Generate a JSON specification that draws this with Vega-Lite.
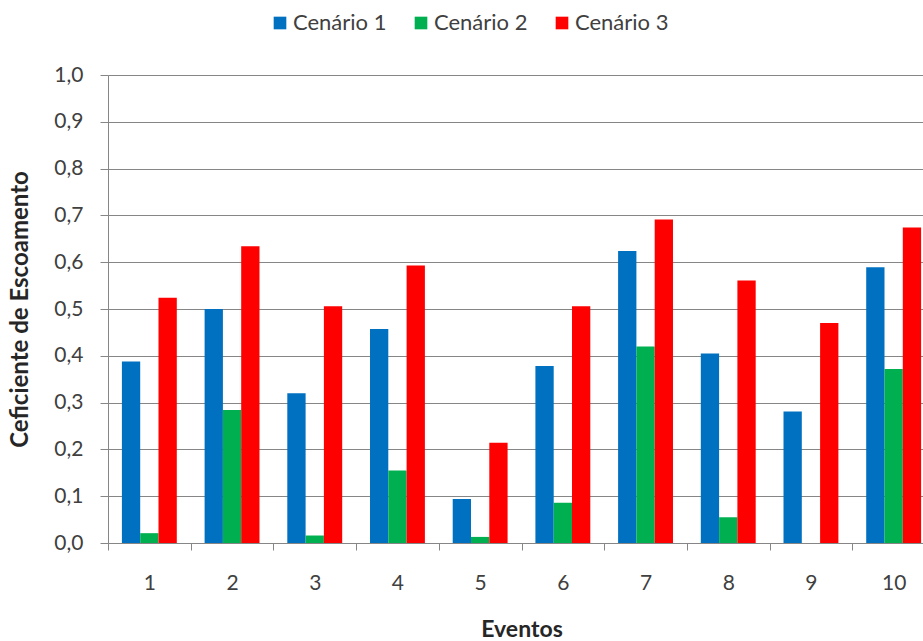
{
  "$schema": "https://vega.github.io/schema/vega-lite/v6.json",
  "width": 815,
  "height": 468,
  "autosize": {"type": "none"},
  "padding": {"left": 108, "top": 75, "right": 0, "bottom": 98},
  "background": "white",
  "data": {
    "values": [
      {"evento": 1, "cenario": "Cenário 1", "valor": 0.388},
      {"evento": 1, "cenario": "Cenário 2", "valor": 0.021},
      {"evento": 1, "cenario": "Cenário 3", "valor": 0.524},
      {"evento": 2, "cenario": "Cenário 1", "valor": 0.500},
      {"evento": 2, "cenario": "Cenário 2", "valor": 0.284},
      {"evento": 2, "cenario": "Cenário 3", "valor": 0.634},
      {"evento": 3, "cenario": "Cenário 1", "valor": 0.320},
      {"evento": 3, "cenario": "Cenário 2", "valor": 0.016},
      {"evento": 3, "cenario": "Cenário 3", "valor": 0.506},
      {"evento": 4, "cenario": "Cenário 1", "valor": 0.457},
      {"evento": 4, "cenario": "Cenário 2", "valor": 0.155},
      {"evento": 4, "cenario": "Cenário 3", "valor": 0.593},
      {"evento": 5, "cenario": "Cenário 1", "valor": 0.094},
      {"evento": 5, "cenario": "Cenário 2", "valor": 0.013},
      {"evento": 5, "cenario": "Cenário 3", "valor": 0.214},
      {"evento": 6, "cenario": "Cenário 1", "valor": 0.378},
      {"evento": 6, "cenario": "Cenário 2", "valor": 0.086},
      {"evento": 6, "cenario": "Cenário 3", "valor": 0.506},
      {"evento": 7, "cenario": "Cenário 1", "valor": 0.624},
      {"evento": 7, "cenario": "Cenário 2", "valor": 0.420},
      {"evento": 7, "cenario": "Cenário 3", "valor": 0.691},
      {"evento": 8, "cenario": "Cenário 1", "valor": 0.405},
      {"evento": 8, "cenario": "Cenário 2", "valor": 0.055},
      {"evento": 8, "cenario": "Cenário 3", "valor": 0.561},
      {"evento": 9, "cenario": "Cenário 1", "valor": 0.281},
      {"evento": 9, "cenario": "Cenário 2", "valor": 0},
      {"evento": 9, "cenario": "Cenário 3", "valor": 0.470},
      {"evento": 10, "cenario": "Cenário 1", "valor": 0.589},
      {"evento": 10, "cenario": "Cenário 2", "valor": 0.372},
      {"evento": 10, "cenario": "Cenário 3", "valor": 0.674}
    ]
  },
  "mark": {"type": "bar"},
  "encoding": {
    "x": {
      "field": "evento",
      "type": "ordinal",
      "scale": {"range": [0, 827], "paddingInner": 0, "paddingOuter": 0},
      "axis": {
        "title": "Eventos",
        "labelAngle": 0,
        "tickBand": "extent",
        "ticks": true,
        "tickSize": 7,
        "tickColor": "#868686",
        "domainColor": "#868686",
        "grid": false,
        "labelPadding": 22,
        "labelFontSize": 21,
        "labelColor": "#404040",
        "labelFont": "Lato",
        "titleFont": "Lato",
        "titleFontSize": 23,
        "titleFontWeight": "bold",
        "titleColor": "#262626",
        "titlePadding": 25
      }
    },
    "xOffset": {
      "field": "cenario",
      "scale": {"paddingInner": 0, "paddingOuter": 0.76}
    },
    "y": {
      "field": "valor",
      "type": "quantitative",
      "scale": {"domain": [0, 1], "nice": false},
      "axis": {
        "title": "Ceficiente de Escoamento",
        "values": [0, 0.1, 0.2, 0.3, 0.4, 0.5, 0.6, 0.7, 0.8, 0.9, 1.0],
        "labelExpr": "replace(format(datum.value, '.1f'), '.', ',')",
        "grid": true,
        "gridColor": "#868686",
        "gridWidth": 1,
        "tickSize": 8,
        "tickColor": "#868686",
        "domainColor": "#868686",
        "labelPadding": 17,
        "labelFontSize": 21,
        "labelColor": "#404040",
        "labelFont": "Lato",
        "titleFont": "Lato",
        "titleFontSize": 24,
        "titleFontWeight": "bold",
        "titleColor": "#262626",
        "titlePadding": 21
      }
    },
    "color": {
      "field": "cenario",
      "type": "nominal",
      "scale": {
        "domain": ["Cenário 1", "Cenário 2", "Cenário 3"],
        "range": ["#0070C0", "#00B050", "#FF0000"]
      },
      "legend": {
        "title": null,
        "orient": "none",
        "legendX": 161,
        "legendY": -63,
        "direction": "horizontal",
        "symbolType": "square",
        "symbolSize": 160,
        "symbolStrokeWidth": 0,
        "labelFontSize": 22,
        "labelFont": "Lato",
        "labelColor": "#404040",
        "labelOffset": 2,
        "columnPadding": 23,
        "padding": 0
      }
    }
  },
  "config": {
    "view": {"stroke": null},
    "axis": {"domainWidth": 1, "tickWidth": 1}
  }
}
